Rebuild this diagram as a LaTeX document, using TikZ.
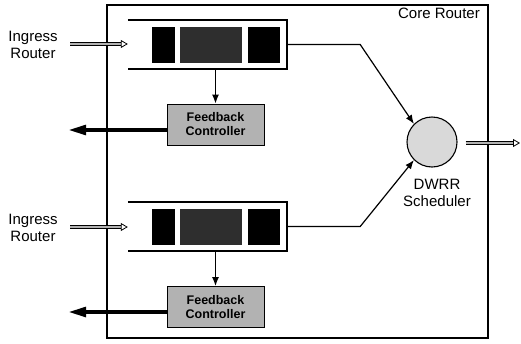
\documentclass[tikz,border=0pt]{standalone}
\usepackage{fontspec}
\setmainfont{Liberation Sans}
\usetikzlibrary{arrows.meta}

\begin{document}
\begin{tikzpicture}[
x=1pt, y=-1pt,
every node/.style={
align=center,
inner sep=0pt,
font=\fontsize{15}{16.5}\selectfont
},
queue/.style={minimum width=159pt, minimum height=49pt},
cell/.style={fill=black, minimum height=36pt},
feedback/.style={
draw, line width=1pt,
fill=gray!60,
minimum width=97pt, minimum height=41pt,
font=\bfseries\fontsize{12.5}{14}\selectfont
},
link/.style={line width=1.2pt, -{Latex[length=9pt,width=7pt]}},
hollow/.style={
line width=0.8pt, double=gray!60, double distance=2.4pt,
-{Triangle[open,length=7pt,width=8pt]}
},
thickarrow/.style={line width=3.8pt, -{Triangle[length=18pt,width=9.5pt]}}
]

\useasboundingbox (0,0) rectangle (521,343);

\node[draw, line width=1.1pt, minimum width=381pt, minimum height=333pt] (core) at (297.5,171.5) {};
\node[anchor=north east] (corelbl) at (480,8) {Core Router};

\node (in1) at (33,45) {Ingress\\Router};
\node (in2) at (33,228) {Ingress\\Router};

\node[queue] (q1) at (207.5,44.5) {};
\node[queue] (q2) at (207.5,226.5) {};

\node[cell, minimum width=23pt] (c11) at (163.5,45) {};
\node[cell, minimum width=62pt, fill=black!82] (c12) at (211,45) {};
\node[cell, minimum width=32pt] (c13) at (264,45) {};
\node[cell, minimum width=23pt] (c21) at (163.5,227) {};
\node[cell, minimum width=62pt, fill=black!82] (c22) at (211,227) {};
\node[cell, minimum width=32pt] (c23) at (264,227) {};

\node[feedback] (fc1) at (215.5,124.5) {Feedback\\Controller};
\node[feedback] (fc2) at (215.5,307) {Feedback\\Controller};

\node[draw, circle, line width=1.1pt, fill=gray!30, minimum size=50pt] (sch) at (432,142) {};
\node (dwrr) at (437,193) {DWRR\\Scheduler};

\coordinate (a1) at (70,44);
\coordinate (a2) at (70,227);
\coordinate (o1) at (68,130);
\coordinate (o2) at (68,312);
\coordinate (o3) at (520,143);

\draw[line width=1.6pt] (q1.north west) -- (q1.north east) -- (q1.south east) -- (q1.south west);
\draw[line width=1.6pt] (q2.north west) -- (q2.north east) -- (q2.south east) -- (q2.south west);

\draw[hollow] (a1) -- (q1.west |- a1);
\draw[hollow] (a2) -- (q2.west |- a2);

\draw[link] (q1.south -| fc1.north) -- (fc1.north);
\draw[link] (q2.south -| fc2.north) -- (fc2.north);

\draw[thickarrow] (fc1.west |- o1) -- (o1);
\draw[thickarrow] (fc2.west |- o2) -- (o2);

\draw[link] (q1.east) -- ++(73,0) -- (sch.north west);
\draw[link] (q2.east) -- ++(73,0) -- (sch.south west);

\draw[hollow, shorten <=8pt] (sch.east |- o3) -- (o3);

\end{tikzpicture}
\end{document}
